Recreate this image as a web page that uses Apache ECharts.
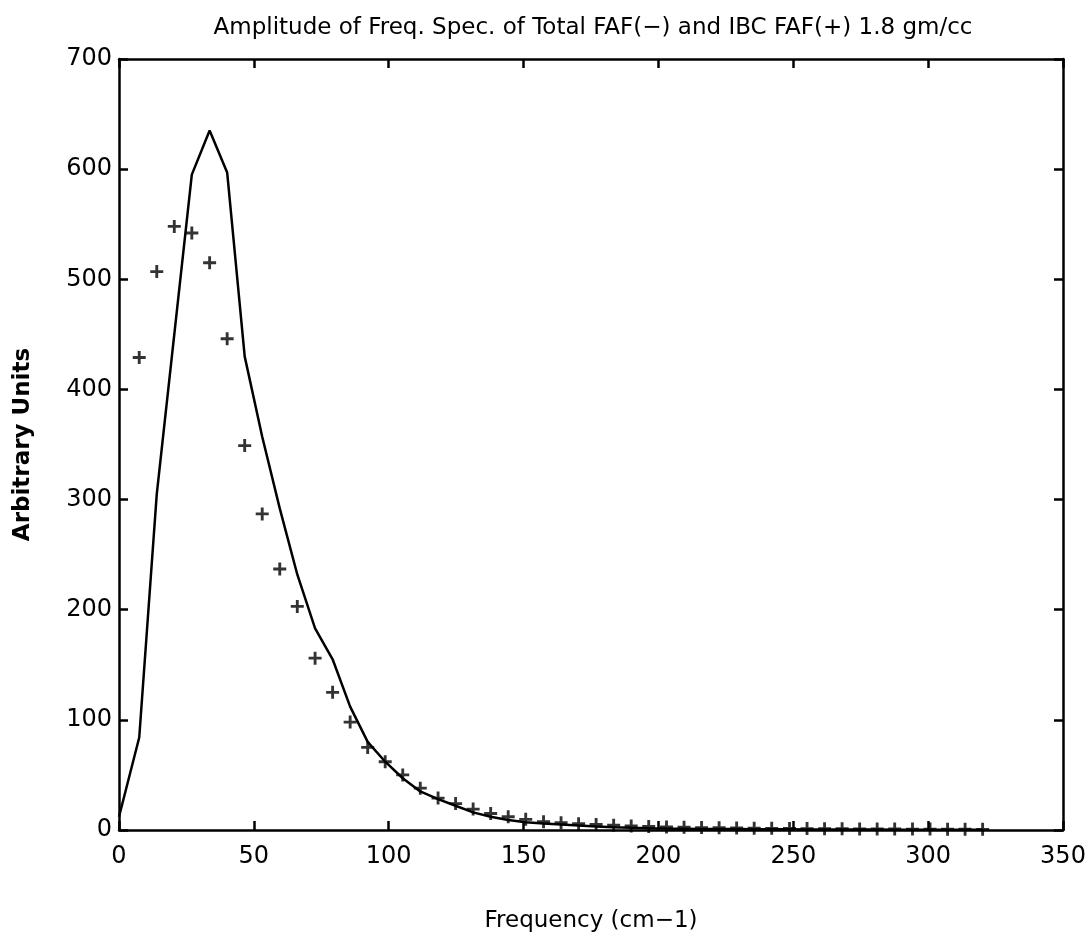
<!DOCTYPE html>
<html>
<head>
<meta charset="utf-8">
<script src="https://cdn.jsdelivr.net/npm/echarts@6/dist/echarts.min.js"></script>
<style>html,body{margin:0;padding:0;background:#fff}#c{width:1092px;height:947px}</style>
</head>
<body>
<div id="c"></div>
<script>
// Frequencies (cm-1)
const freqLine = [0, 7.5, 14.0, 20.5, 27.0, 33.6, 40.1, 46.6, 53.1, 59.6, 66.1, 72.7, 79.2, 85.7, 92.2, 98.7,
  105.2, 111.7, 118.3, 124.8, 131.3, 137.8, 144.3, 150.8, 157.4, 163.9, 170.4, 176.9, 183.4, 189.9, 196.4,
  203.0, 209.5, 216.0, 222.5, 229.0, 235.5, 242.0, 248.6, 255.1, 261.6, 268.1, 274.6, 281.1, 287.6, 294.2,
  300.7, 307.2, 313.7, 320.2];
// Total FAF (-) line
const totalFAF = [12, 84, 305, 450, 595, 635, 597, 430, 357, 292, 232, 183, 155, 112, 80, 62,
  47, 35, 28, 22, 16, 12, 9, 7, 6, 5, 4, 3.2, 2.6, 2.1, 1.7,
  1.4, 1.2, 1.0, 0.9, 0.8, 0.7, 0.6, 0.6, 0.5, 0.5, 0.4, 0.4, 0.4, 0.3, 0.3,
  0.3, 0.3, 0.2, 0.2];
// IBC FAF (+) points
const freqIBC = [7.5, 14.0, 20.5, 27.0, 33.6, 40.1, 46.6, 53.1, 59.6, 66.1, 72.7, 79.2, 85.7, 92.2, 98.7,
  105.2, 111.7, 118.3, 124.8, 131.3, 137.8, 144.3, 150.8, 157.4, 163.9, 170.4, 176.9, 183.4, 189.9, 196.4,
  203.0, 209.5, 216.0, 222.5, 229.0, 235.5, 242.0, 248.6, 255.1, 261.6, 268.1, 274.6, 281.1, 287.6, 294.2,
  300.7, 307.2, 313.7, 320.2];
const ibcFAF = [429, 507, 548, 542, 515, 446, 349, 287, 237, 203, 156, 125, 98, 75, 62,
  50, 38, 29, 24, 19, 15, 12, 9.7, 7.5, 6.6, 5.7, 5.0, 4.3, 3.7, 3.2,
  2.8, 2.5, 2.2, 2.0, 1.8, 1.6, 1.5, 1.4, 1.3, 1.2, 1.1, 1.0, 0.9, 0.9, 0.8,
  0.8, 0.7, 0.7, 0.6];
const xTicks = [0, 50, 100, 150, 200, 250, 300, 350];
const yTicks = [0, 100, 200, 300, 400, 500, 600, 700];

const FONT = 'DejaVu Sans';
const axisLine = {show: true, onZero: false, lineStyle: {color: '#000', width: 2.5}};
const axisTick = {show: true, inside: true, length: 9, lineStyle: {color: '#000', width: 2.5}};
const chart = echarts.init(document.getElementById('c'), null, {renderer: 'canvas'});
chart.setOption({
  animation: false,
  backgroundColor: '#fff',
  title: {
    text: 'Amplitude of Freq. Spec. of Total FAF(\u2212) and IBC FAF(+) 1.8 gm/cc',
    left: 588, top: 12, textAlign: 'center',
    textStyle: {fontFamily: FONT, fontSize: 23, fontWeight: 'normal', color: '#000'}
  },
  grid: {left: 119, right: 29, top: 59, bottom: 117},
  xAxis: [{
    type: 'value', min: xTicks[0], max: xTicks[xTicks.length - 1], interval: 50,
    position: 'bottom',
    name: 'Frequency (cm\u22121)', nameLocation: 'middle', nameGap: 80,
    nameTextStyle: {fontFamily: FONT, fontSize: 23, color: '#000'},
    axisLine, axisTick, splitLine: {show: false},
    axisLabel: {fontFamily: FONT, fontSize: 24, color: '#000', margin: 15}
  }, {
    type: 'value', min: 0, max: 350, interval: 50, position: 'top',
    axisLine, axisTick, splitLine: {show: false}, axisLabel: {show: false}
  }],
  yAxis: [{
    type: 'value', min: yTicks[0], max: yTicks[yTicks.length - 1], interval: 100,
    position: 'left',
    name: 'Arbitrary Units', nameLocation: 'middle', nameGap: 84, nameRotate: 90,
    nameTextStyle: {fontFamily: FONT, fontSize: 23, fontWeight: 'bold', color: '#000'},
    axisLine, axisTick, splitLine: {show: false},
    axisLabel: {fontFamily: FONT, fontSize: 24, color: '#000', margin: 7}
  }, {
    type: 'value', min: 0, max: 700, interval: 100, position: 'right',
    axisLine, axisTick, splitLine: {show: false}, axisLabel: {show: false}
  }],
  series: [{
    name: 'Total FAF', type: 'line', xAxisIndex: 0, yAxisIndex: 0,
    data: freqLine.map((f, i) => [f, totalFAF[i]]),
    showSymbol: false, symbol: 'none',
    lineStyle: {color: '#000', width: 2.5}, z: 3
  }, {
    name: 'IBC FAF', type: 'scatter', xAxisIndex: 0, yAxisIndex: 0,
    data: freqIBC.map((f, i) => [f, ibcFAF[i]]),
    symbol: 'path://M3.9,0H6.1V10H3.9Z M0,3.9H10V6.1H0Z', symbolSize: [13, 13],
    itemStyle: {color: '#000'}, z: 4
  }]
});
</script>
</body>
</html>
